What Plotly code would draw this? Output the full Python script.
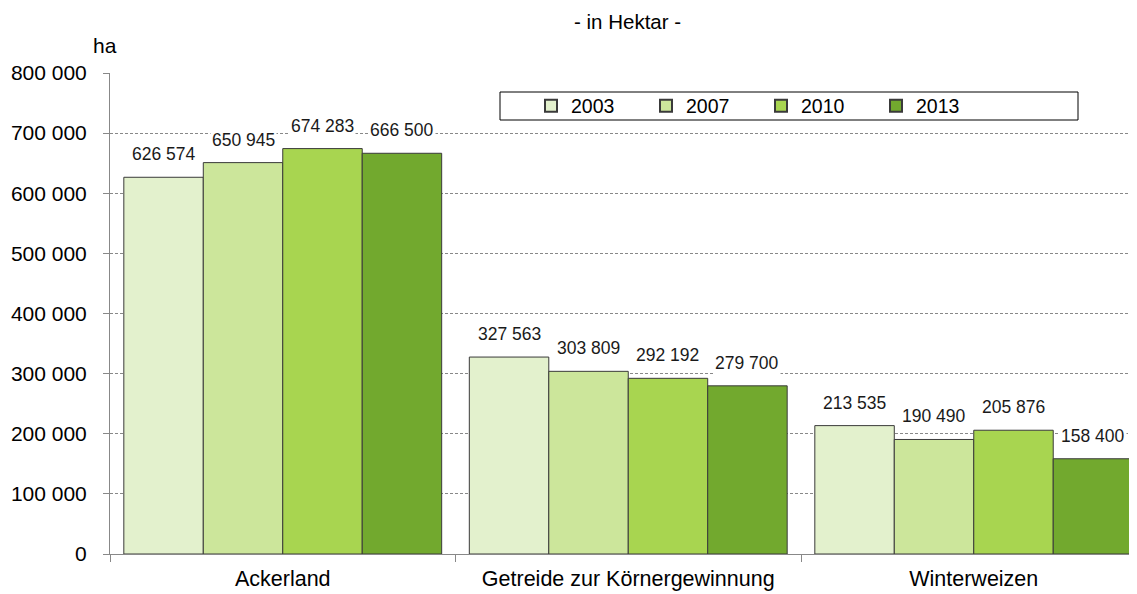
import plotly.graph_objects as go

categories = ["Ackerland", "Getreide zur Körnergewinnung", "Winterweizen"]
years = ["2003", "2007", "2010", "2013"]
values = {
    "2003": [626574, 327563, 213535],
    "2007": [650945, 303809, 190490],
    "2010": [674283, 292192, 205876],
    "2013": [666500, 279700, 158400],
}
colors = {"2003": "#E3F1CD", "2007": "#CCE69B", "2010": "#A8D550", "2013": "#72A92E"}
y_ticks = [0, 100000, 200000, 300000, 400000, 500000, 600000, 700000, 800000]

# the page body has an 8px margin; work in reference pixels and shift
OFF = 8
W, H = 1137 - OFF, 594 - OFF
L, T = 110 - OFF, 73 - OFF
R = 0
B = H - (554 - OFF)
PW, PH = W - L - R, H - T - B
cat_w_px = 345.5
bar_w = 0.23
FONT = "Liberation Sans, Arial, sans-serif"

def fmt(v):
    return f"{v:,}".replace(",", " ")

def px_x(p):
    return (p - OFF - L) / PW

def px_y(p):
    return (H - B - (p - OFF)) / PH

fig = go.Figure()
annotations = []
for j, yr in enumerate(years):
    xs = [i + (j - 1.5) * bar_w for i in range(len(categories))]
    fig.add_trace(go.Bar(
        x=xs, y=values[yr], width=bar_w, name=yr,
        marker=dict(color=colors[yr], line=dict(color="#3a3a3a", width=1)),
        hoverinfo="y",
    ))
    for x, v in zip(xs, values[yr]):
        annotations.append(dict(
            x=x, y=v, xref="x", yref="y", text=fmt(v), showarrow=False,
            yanchor="middle", yshift=23, bgcolor="white",
            font=dict(family=FONT, size=17.5, color="#1a1a1a"),
        ))

x_max = -0.5 + PW / cat_w_px

annotations.append(dict(
    x=px_x(627), y=px_y(21), xref="paper", yref="paper",
    text="- in Hektar -", showarrow=False, xanchor="center", yanchor="middle",
    borderpad=0,
    font=dict(family=FONT, size=20.5, color="#000"),
))
annotations.append(dict(
    x=px_x(105), y=px_y(45), xref="paper", yref="paper",
    text="ha", showarrow=False, xanchor="center", yanchor="middle",
    font=dict(family=FONT, size=21, color="#000"),
))

fig.update_layout(
    width=W, height=H,
    margin=dict(l=L, r=R, t=T, b=B, pad=0),
    paper_bgcolor="white", plot_bgcolor="white",
    barmode="overlay",
    separators=". ",
    showlegend=True,
    legend=dict(
        orientation="h", x=px_x(531), xanchor="left", y=px_y(106), yanchor="middle",
        font=dict(family=FONT, size=19.5, color="#000"),
        bgcolor="rgba(0,0,0,0)", borderwidth=0,
        entrywidth=70, entrywidthmode="pixels", itemsizing="constant",
        traceorder="normal",
    ),
    shapes=[dict(
        type="rect", xref="paper", yref="paper",
        x0=px_x(500), x1=px_x(1078), y0=px_y(120), y1=px_y(92),
        line=dict(color="#000", width=1), fillcolor="white", layer="below",
    )],
    annotations=annotations,
    xaxis=dict(
        range=[-0.5, x_max], tickmode="array", tickvals=list(range(len(categories))),
        ticktext=categories, ticks="", showgrid=False, zeroline=False,
        showline=True, linecolor="#888", linewidth=1,
        tickfont=dict(family=FONT, size=21.5, color="#000"),
        ticklabelstandoff=5,
        minor=dict(tickmode="array", tickvals=[-0.5, 0.5, 1.5, 2.5], ticks="outside",
                   ticklen=7, tickcolor="#888", tickwidth=1, showgrid=False),
    ),
    yaxis=dict(
        range=[0, 800000], tickmode="array", tickvals=y_ticks, tickformat=",d",
        showgrid=True, gridcolor="#888", griddash="3px,2px", gridwidth=1,
        zeroline=False, showline=True, linecolor="#888", linewidth=1,
        ticks="outside", ticklen=6, tickcolor="#888",
        tickfont=dict(family=FONT, size=21, color="#000"),
        ticklabelstandoff=12,
    ),
)

fig.write_html("out.html")
